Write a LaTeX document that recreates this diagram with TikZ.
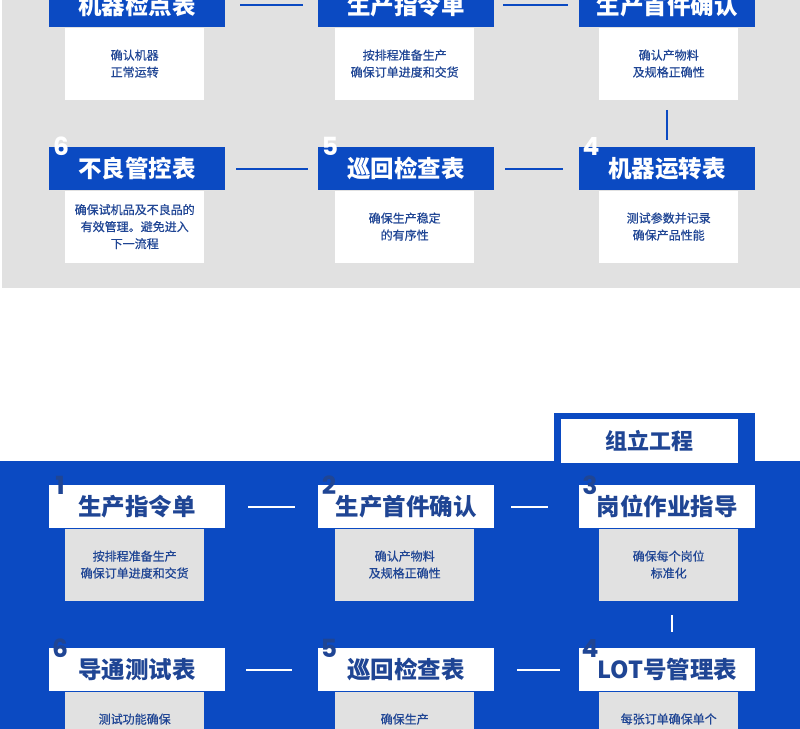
\documentclass[tikz,border=0pt]{standalone}
\usepackage{fontspec}
\newfontfamily\cjk{Noto Sans CJK SC}
\newfontfamily\cjkb[FakeBold=0.6]{Noto Sans CJK SC}
\newfontfamily\numf{Poppins}
\definecolor{bl}{HTML}{0B4AC2}
\definecolor{gr}{HTML}{E1E1E1}
\definecolor{tx}{HTML}{1F4594}
\begin{document}
\begin{tikzpicture}[x=1pt,y=-1pt,
  title/.style={minimum width=176pt,minimum height=43pt,inner sep=0pt,font=\cjk\bfseries\fontsize{23.5}{26}\selectfont},
  body/.style={minimum width=139pt,minimum height=72pt,inner sep=0pt,align=center,font=\cjkb\fontsize{12}{17}\selectfont,text=tx},
  num/.style={font=\numf\bfseries\fontsize{25}{25}\selectfont,inner sep=0pt},
  link/.style={line width=2pt}]
\useasboundingbox (0,0) rectangle (800,728);
% top panel
\fill[gr] (2,-20) rectangle (800,288);
\newcommand\cardT[7]{%
 \node[title,fill=bl,text=white,anchor=north west] (#1t) at (#2,#3) {#5};
 \node[body,fill=white,anchor=north] (#1b) at ([xshift=#7pt]#1t.south) {#6};
 \if\relax#4\relax\else\node[num,text=white] (#1n) at ([xshift=12pt,yshift=1pt]#1t.north west) {#4};\fi}
\newcommand\cardB[7]{%
 \node[title,fill=white,text=tx,anchor=north west] (#1t) at (#2,#3) {#5};
 \node[body,fill=gr,anchor=north] (#1b) at ([xshift=#7pt]#1t.south) {#6};
 \node[num,text=tx] (#1n) at ([xshift=11pt,yshift=0pt]#1t.north west) {#4};}
\cardT{a1}{49}{-16}{}{机器检点表}{确认机器\\正常运转}{-2.5}
\cardT{a2}{318}{-16}{}{生产指令单}{按排程准备生产\\确保订单进度和交货}{-1.5}
\cardT{a3}{579}{-16}{}{生产首件确认}{确认产物料\\及规格正确性}{1.5}
\cardT{a6}{49}{147}{6}{不良管控表}{确保试机品及不良品的\\有效管理。避免进入\\下一流程}{-2.5}
\cardT{a5}{318}{147}{5}{巡回检查表}{确保生产稳定\\的有序性}{-1.5}
\cardT{a4}{579}{147}{4}{机器运转表}{测试参数并记录\\确保产品性能}{1.5}
\draw[link,bl] ([xshift=15pt,yshift=1pt]a1t.east) -- ([xshift=-15pt,yshift=1pt]a2t.west);
\draw[link,bl] ([xshift=9pt,yshift=1pt]a2t.east) -- ([xshift=-11pt,yshift=1pt]a3t.west);
\draw[link,bl] ([xshift=11pt]a6t.east) -- ([xshift=-10pt]a5t.west);
\draw[link,bl] ([xshift=11pt]a5t.east) -- ([xshift=-16pt]a4t.west);
\coordinate (u1) at ([yshift=-10pt,xshift=-2pt]a3b.south);
\draw[link,bl] (u1) -- ([yshift=7pt]u1 |- a4t.north);
% bottom panel
\fill[bl] (0,461) rectangle (800,740);
\fill[bl] (554,413) rectangle (755,461);
\node[fill=white,minimum width=177pt,minimum height=44pt,inner sep=0pt,text=tx,font=\cjk\bfseries\fontsize{22}{24}\selectfont] (tab) at (649.5,441) {组立工程};
\cardB{b1}{49}{485}{1}{生产指令单}{按排程准备生产\\确保订单进度和交货}{-2.5}
\cardB{b2}{318}{485}{2}{生产首件确认}{确认产物料\\及规格正确性}{-1.5}
\cardB{b3}{579}{485}{3}{岗位作业指导}{确保每个岗位\\标准化}{1.5}
\cardB{b6}{49}{648}{6}{导通测试表}{测试功能确保\\每个产品的功能无异}{-2.5}
\cardB{b5}{318}{648}{5}{巡回检查表}{确保生产\\的有序性}{-1.5}
\cardB{b4}{579}{648}{4}{LOT号管理表}{每张订单确保单个\\岗位追溯，每个物料}{1.5}
\draw[link,white] ([xshift=23pt]b1t.east) -- ([xshift=-23pt]b2t.west);
\draw[link,white] ([xshift=17pt]b2t.east) -- ([xshift=-31pt]b3t.west);
\draw[link,white] ([xshift=21pt]b6t.east) -- ([xshift=-26pt]b5t.west);
\draw[link,white] ([xshift=23pt]b5t.east) -- ([xshift=-19pt]b4t.west);
\coordinate (v1) at ([yshift=-14pt,xshift=3pt]b3b.south);
\draw[link,white] (v1) -- ([yshift=16pt]v1 |- b4t.north);
\end{tikzpicture}
\end{document}
